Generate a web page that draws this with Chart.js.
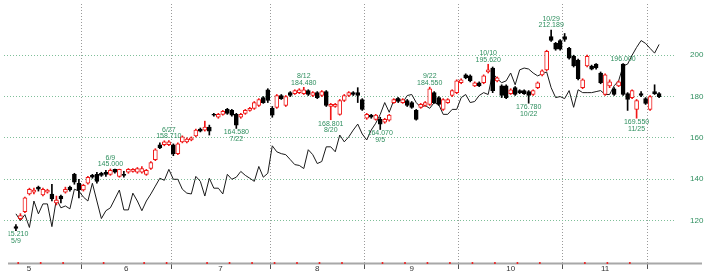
<!DOCTYPE html>
<html>
<head>
<meta charset="UTF-8" />
<title>株価チャート</title>
<style>
  body { margin: 0; padding: 0; background: #fff; }
  .chart-box { width: 707px; height: 274px; position: relative; }
</style>
</head>
<body>
<div class="chart-box"><canvas id="priceChart"></canvas></div>

<script src="https://cdn.jsdelivr.net/npm/chart.js"></script>
<script>
  // daily candles, index 0 = 5/9
  const opens = [
    117.1,121.0,124.3,132.9,133.8,136.2,132.4,133.8,132.9,128.6,131.9,133.8,136.2,142.4,138.1,
    134.8,138.1,141.9,142.4,142.9,143.4,142.4,144.8,141.4,142.4,143.4,143.8,143.4,143.4,142.4,145.2,149.5,156.7,156.7,156.7,
    156.7,152.4,158.1,158.1,159.0,161.0,164.3,163.8,165.2,171.4,170.0,171.4,173.8,173.3,171.4,170.0,171.9,173.3,174.3,175.7,179.5,183.3,
    174.3,174.8,180.5,175.7,181.9,181.4,181.9,181.4,182.9,180.5,181.9,180.5,182.4,175.2,175.2,171.4,178.1,180.5,181.9,181.9,178.6,
    169.5,171.0,169.0,169.0,167.6,168.6,177.1,179.0,177.1,178.1,177.1,173.3,174.8,175.7,176.2,181.9,179.5,173.8,177.1,180.5,181.9,
    186.7,190.5,190.0,185.2,186.7,186.7,191.9,193.8,187.6,185.2,185.2,181.4,184.3,182.9,182.9,182.4,181.0,184.3,190.5,192.9,209.0,205.7,207.1,
    209.0,203.3,199.5,197.6,184.3,194.8,194.8,195.7,191.4,181.0,185.2,183.8,185.2,195.7,181.4,179.5,173.8,181.4,179.0,
    173.8,182.4,181.4
  ];
  const highs = [
    118.1,123.4,131.4,135.7,135.7,136.7,135.7,135.2,137.6,131.9,132.4,136.2,136.7,142.9,140.0,
    137.6,141.4,142.4,143.4,143.4,144.3,145.0,144.9,144.9,143.8,145.2,145.2,145.7,146.2,144.8,148.6,154.8,157.6,158.6,158.71,
    157.1,157.6,161.0,160.0,160.5,164.3,164.8,168.1,166.2,171.9,171.9,173.3,174.3,173.8,171.9,171.9,173.8,174.8,177.6,179.0,180.0,183.8,
    175.2,181.0,181.0,180.5,182.4,183.3,183.8,184.48,183.3,182.4,182.4,182.9,182.9,176.7,176.7,178.6,181.0,182.4,182.4,184.3,179.0,
    171.9,171.4,171.4,170.0,169.5,171.4,179.0,179.5,179.0,178.6,177.6,173.8,176.7,177.6,184.55,182.4,180.0,179.0,179.0,183.3,188.1,
    188.6,191.0,190.5,187.1,187.1,190.5,195.62,194.3,189.5,185.7,185.7,183.8,184.8,183.3,183.3,182.9,183.3,187.1,192.9,202.4,212.189,206.2,207.6,
    210.5,203.8,200.0,198.1,188.6,200.0,195.2,195.9,191.9,191.0,188.1,184.3,187.6,196.0,181.9,183.3,178.6,182.4,179.5,
    180.5,185.7,181.9
  ];
  const lows = [
    115.21,120.5,123.9,132.4,132.9,134.3,131.9,133.3,129.5,127.6,128.6,133.3,134.3,137.6,131.0,
    134.3,137.6,140.5,138.1,141.4,141.4,141.9,142.9,141.0,141.0,142.9,143.4,142.9,142.9,141.9,144.8,149.0,154.8,156.2,156.2,
    151.4,151.9,157.6,157.6,158.6,160.5,162.9,163.3,161.4,170.5,169.5,171.0,171.4,170.5,164.58,169.5,171.4,172.9,173.8,175.2,176.7,177.1,
    170.0,174.3,178.6,175.2,180.0,181.0,181.4,181.0,180.5,180.0,179.0,180.0,175.2,168.801,174.8,171.0,177.6,180.0,180.5,177.1,173.3,
    169.0,169.5,168.6,164.07,167.1,168.1,176.7,177.1,176.7,175.2,174.3,168.6,174.3,175.2,175.7,176.7,175.7,173.3,176.7,180.0,181.4,
    186.2,188.6,187.1,184.8,184.8,186.2,191.4,181.9,187.1,179.5,179.0,181.0,180.5,181.4,181.0,176.78,180.5,183.8,190.0,192.4,206.7,202.4,202.4,
    206.7,198.1,194.3,188.1,183.8,194.3,192.9,193.3,186.2,180.5,184.3,180.5,184.8,180.5,173.3,179.0,169.55,180.0,176.2,
    173.3,181.0,179.5
  ];
  const closes = [
    116.2,122.4,131.0,135.2,134.8,135.2,135.2,134.8,130.5,130.0,130.5,135.2,134.8,138.6,134.8,
    137.1,141.0,141.0,139.0,141.9,142.4,144.3,143.4,144.8,141.9,144.8,144.8,145.2,145.2,144.3,148.1,154.3,155.2,158.1,158.1,
    152.4,157.1,160.5,159.5,160.0,163.8,163.3,165.2,163.3,171.0,171.4,172.9,171.9,171.0,166.2,171.4,173.3,174.3,177.1,178.6,177.1,178.1,
    171.0,180.5,179.0,180.0,180.5,182.9,183.3,183.3,181.0,181.9,179.5,182.4,175.7,176.2,176.2,178.1,180.5,181.9,181.0,180.5,173.8,
    171.4,170.0,171.0,166.7,169.0,171.0,178.6,177.6,178.6,175.7,174.8,169.0,176.2,177.1,183.8,177.1,176.2,178.6,178.6,182.9,187.6,
    188.1,189.0,187.6,186.7,185.2,190.0,192.9,182.9,189.0,180.5,179.5,183.3,181.0,181.9,181.4,180.5,182.9,186.7,192.4,201.9,207.1,202.9,202.9,
    207.6,198.6,194.8,188.6,188.1,199.5,193.3,193.8,186.7,190.5,187.1,181.0,187.1,181.0,178.6,182.9,178.1,180.5,176.7,
    180.0,181.4,180.0
  ];
  // comparison line (same day index)
  const lineValues = [
    123.3,120.0,122.9,116.7,129.5,123.3,128.1,128.1,117.1,130.5,126.2,127.1,125.7,135.2,134.3,
    131.4,129.5,138.1,129.5,121.0,124.8,126.2,130.5,134.8,125.2,125.2,133.3,129.5,124.8,129.5,132.9,136.7,140.5,139.5,144.8,
    140.0,140.0,135.2,133.3,132.9,141.4,139.0,131.9,140.5,135.7,135.7,132.9,142.4,140.0,141.0,143.8,141.9,140.5,139.0,146.2,141.0,142.9,
    156.2,153.3,152.4,151.9,149.5,147.1,146.7,145.2,154.3,151.9,147.6,148.6,155.7,155.7,153.3,161.4,158.1,160.5,163.8,166.7,161.9,
    159.0,163.8,167.1,171.4,177.1,172.4,178.1,179.5,177.1,180.5,181.0,177.1,174.8,175.7,174.3,177.1,176.2,171.4,171.4,173.8,173.8,
    179.5,181.0,177.1,177.6,180.5,181.9,181.0,191.4,188.6,186.7,187.6,191.4,185.7,192.9,193.8,193.3,191.4,190.0,191.0,191.9,184.3,179.5,180.0,
    179.0,182.9,174.8,183.3,181.9,181.9,181.9,182.4,182.9,181.0,181.0,185.2,187.6,194.8,195.7,200.0,203.8,207.1,205.7,
    203.3,201.0,205.2
  ];

  const monthNames = ["5", "6", "7", "8", "9", "10", "11"];
  const monthLabelAt = [2.9, 24.5, 45.5, 67, 88, 110, 131];
  const monthFirst = [15, 35, 57, 78, 99, 122, 141];
  const weekMarks = [0.5, 5.5, 10.5, 19.5, 28.5, 33.5, 42.5, 47.5, 52.5, 57.5, 62.5, 67.5, 72.5,
                     81.5, 86.5, 91.5, 96.5, 101.5, 106.5, 111.5, 116.5, 126.5, 131.5, 136.5];
  const yTicks = [120, 140, 160, 180, 200];

  const noteIndex = [0, 21, 34, 49, 64, 70, 81, 92, 105, 114, 119, 135, 138];
  const noteBelow = [true, false, false, true, false, true, true, false, false, true, false, false, true];
  const noteText = [
    ["115.210", "5/9"], ["6/9", "145.000"], ["6/27", "158.710"], ["164.580", "7/22"],
    ["8/12", "184.480"], ["168.801", "8/20"], ["164.070", "9/5"], ["9/22", "184.550"],
    ["10/10", "195.620"], ["176.780", "10/22"], ["10/29", "212.189"], ["196.000"],
    ["169.550", "11/25"]
  ];

  const RED = "#f01818";
  const GREEN = "#2f8f5f";
  const Y_MIN = 99.52, Y_MAX = 224.76;
  const X_MIN = -2.652, X_MAX = 146.76;

  const boundaries = monthFirst.map(k => k - 0.5);
  const isUp = i => closes[i] >= opens[i];

  Chart.defaults.font.family = "'Liberation Sans', Arial, sans-serif";

  const axisLine = {
    id: "axisLine",
    beforeDatasetsDraw(chart) {
      const { ctx, chartArea } = chart;
      ctx.save();
      ctx.strokeStyle = "#a8a8a8";
      ctx.lineWidth = 2;
      ctx.beginPath();
      ctx.moveTo(8, chartArea.bottom + 0.5);
      ctx.lineTo(702, chartArea.bottom + 0.5);
      ctx.stroke();
      ctx.restore();
    }
  };

  const notes = {
    id: "notes",
    afterDatasetsDraw(chart) {
      const { ctx } = chart;
      const xs = chart.scales.x, ys = chart.scales.y;
      ctx.save();
      // the first low label runs off the left edge in the original
      ctx.beginPath();
      ctx.rect(8.5, 0, chart.width, chart.height);
      ctx.clip();
      ctx.font = "7px 'Liberation Sans'";
      ctx.fillStyle = GREEN;
      ctx.textAlign = "center";
      ctx.textBaseline = "middle";
      noteIndex.forEach((k, n) => {
        const px = xs.getPixelForValue(k);
        const lines = noteText[n];
        if (noteBelow[n]) {
          const py = ys.getPixelForValue(lows[k]);
          lines.forEach((t, j) => ctx.fillText(t, px, py + 4 + j * 6.5));
        } else {
          const py = ys.getPixelForValue(highs[k]);
          lines.forEach((t, j) => ctx.fillText(t, px, py - 4.5 - (lines.length - 1 - j) * 6.5));
        }
      });
      ctx.restore();
    }
  };

  new Chart(document.getElementById("priceChart"), {
    type: "bar",
    data: {
      datasets: [
        {
          type: "scatter",
          data: weekMarks.map(k => ({ x: k, y: Y_MIN })),
          pointRadius: 1,
          pointBackgroundColor: RED,
          pointBorderWidth: 0,
          clip: false,
          order: 0
        },
        {
          data: opens.map((o, i) => ({ x: i, y: [Math.min(o, closes[i]), Math.max(o, closes[i])] })),
          backgroundColor: c => (isUp(c.dataIndex) ? "#ffffff" : "#000000"),
          borderColor: c => (isUp(c.dataIndex) ? RED : "#000000"),
          borderWidth: 1,
          borderSkipped: false,
          barThickness: 4,
          grouped: false,
          order: 1
        },
        {
          data: opens.map((o, i) => ({ x: i, y: [lows[i], highs[i]] })),
          backgroundColor: c => (isUp(c.dataIndex) ? RED : "#000000"),
          barThickness: 1,
          grouped: false,
          order: 2
        },
        {
          type: "line",
          data: lineValues.map((v, i) => ({ x: i, y: v })),
          borderColor: "#1a1a1a",
          borderWidth: 1,
          pointRadius: 0,
          tension: 0,
          order: 3
        }
      ]
    },
    options: {
      responsive: true,
      maintainAspectRatio: false,
      animation: false,
      layout: { padding: 0 },
      plugins: { legend: { display: false }, tooltip: { enabled: false } },
      scales: {
        x: {
          type: "linear",
          min: X_MIN,
          max: X_MAX,
          offset: false,
          afterBuildTicks: s => {
            s.ticks = boundaries.concat(monthLabelAt).map(v => ({ value: v }));
          },
          afterFit: s => {
            s.height = 11;
            s.paddingLeft = 0;
            s.paddingRight = 0;
          },
          grid: {
            offset: false,
            color: c => (c.tick && boundaries.includes(c.tick.value) ? "#9a9a9a" : "rgba(0,0,0,0)"),
            tickColor: c => (c.tick && boundaries.includes(c.tick.value) ? "#555" : "rgba(0,0,0,0)"),
            tickLength: 6,
            lineWidth: 1
          },
          border: { display: false, dash: [1, 2] },
          ticks: {
            autoSkip: false,
            maxRotation: 0,
            padding: -5,
            color: "#333",
            font: { size: 8 },
            callback: v => {
              const i = monthLabelAt.indexOf(v);
              return i >= 0 ? monthNames[i] : "";
            }
          }
        },
        y: {
          position: "right",
          min: Y_MIN,
          max: Y_MAX,
          afterBuildTicks: s => {
            s.ticks = yTicks.map(v => ({ value: v }));
          },
          afterFit: s => {
            s.width = 31;
            s.paddingTop = 0;
            s.paddingBottom = 0;
          },
          grid: { color: "#7fbf99", drawTicks: false, lineWidth: 1 },
          border: { display: false, dash: [1, 2] },
          ticks: { padding: 14, color: GREEN, font: { size: 8 } }
        }
      }
    },
    plugins: [axisLine, notes]
  });
</script>
</body>
</html>
